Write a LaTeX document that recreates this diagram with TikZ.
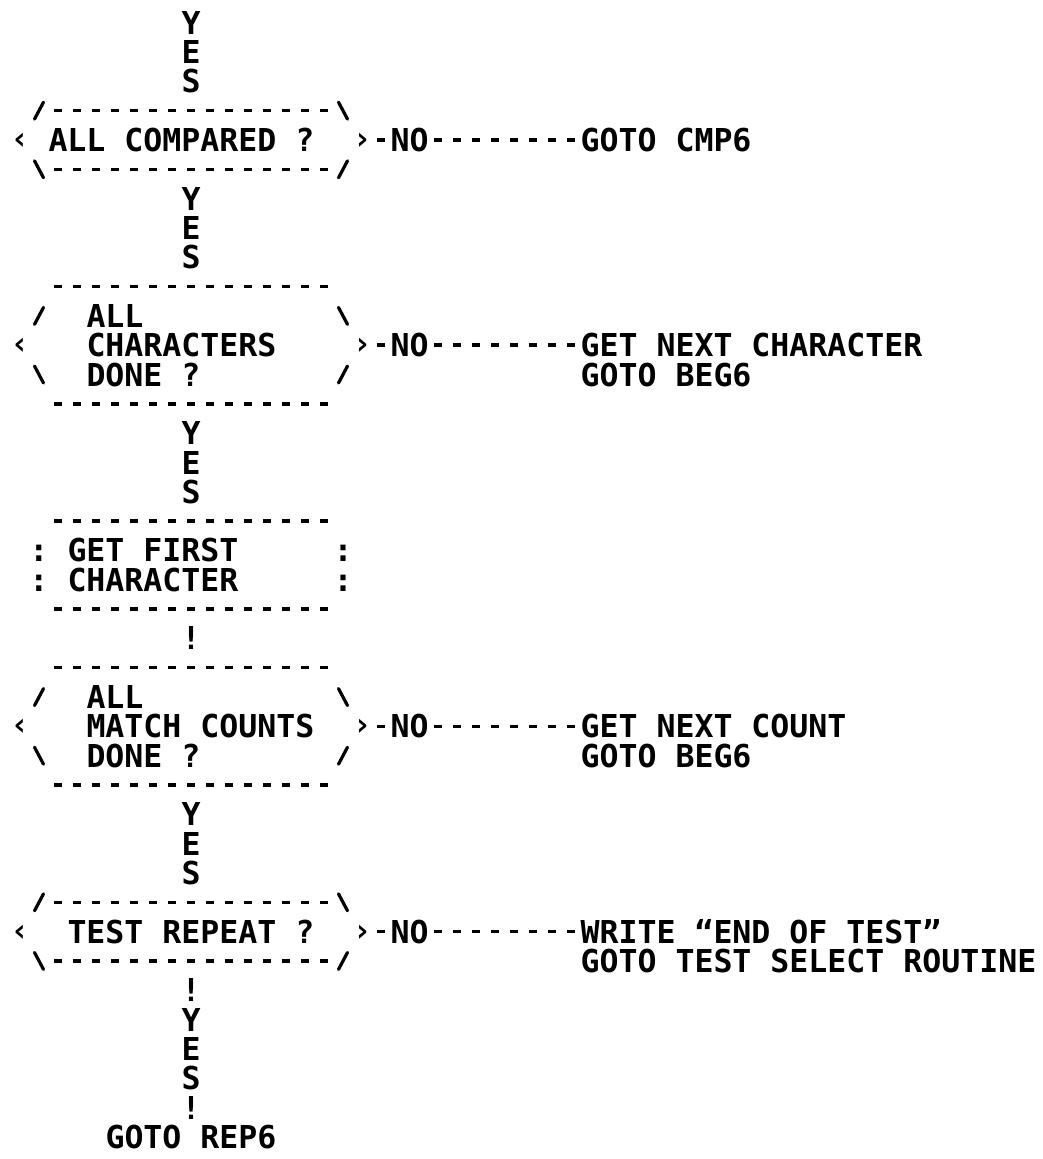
\documentclass[tikz,border=0pt]{standalone}
\usepackage{fontspec}
\newfontfamily\monofam{DejaVu Sans Mono}
\newcommand\ff{\monofam\bfseries\fontsize{31.56pt}{36pt}\selectfont}
\newcommand\slashF[1]{\draw[stroke] ([shift={(-4.5pt,-8.5pt)}]#1) -- ([shift={(4.5pt,8.5pt)}]#1);}
\newcommand\slashB[1]{\draw[stroke] ([shift={(-4.5pt,8.5pt)}]#1) -- ([shift={(4.5pt,-8.5pt)}]#1);}
\begin{document}
\begin{tikzpicture}[x=19pt,y=-29.32pt,
  lbl/.style={font=\ff,inner sep=0pt,outer sep=0pt,text height=23pt,text depth=0pt,anchor=west},
  glyph/.style={font=\ff,inner sep=0pt,outer sep=0pt,text height=23pt,text depth=0pt,anchor=center},
  angle/.style={glyph,yshift=2pt},
  dashrow/.style={line width=3.5pt,dash pattern=on 8pt off 11pt},
  stroke/.style={line width=3.2pt,line cap=round}]
\fill[white] (-20pt,22.7pt) rectangle ++(1043pt,-1159pt);
\useasboundingbox (-20pt,22.7pt) rectangle ++(1043pt,-1159pt);

% --- YES above first decision
\node[glyph] (y0) at (9,0) {Y};
\node[glyph] (e0) at (9,1) {E};
\node[glyph] (s0) at (9,2) {S};

% --- Decision 1: ALL COMPARED ?
\coordinate (d1tl) at (1,3); \coordinate (d1tr) at (17,3);
\coordinate (d1bl) at (1,5); \coordinate (d1br) at (17,5);
\slashF{d1tl} \slashB{d1tr} \slashB{d1bl} \slashF{d1br}
\draw[dashrow] ([xshift=15pt]d1tl) -- ([xshift=-15pt]d1tr);
\draw[dashrow] ([xshift=15pt]d1bl) -- ([xshift=-15pt]d1br);
\node[angle] (d1l) at (0,4) {‹};
\node[lbl] (d1) at (1.5,4) {ALL COMPARED ?};
\node[angle] (d1r) at (18,4) {›};
\node[lbl] (no1) at (19.5,4) {NO};
\node[lbl] (g1) at (29.5,4) {GOTO CMP6};
\draw[dashrow] ([xshift=5.5pt]d1r.east |- no1.west) -- ([xshift=-5.5pt]no1.west);
\draw[dashrow] ([xshift=5.5pt]no1.east) -- ([xshift=-5.5pt]g1.west);

\node[glyph] (y1) at (9,6) {Y};
\node[glyph] (e1) at (9,7) {E};
\node[glyph] (s1) at (9,8) {S};

% --- Decision 2: ALL CHARACTERS DONE ?
\coordinate (d2ta) at (2,9); \coordinate (d2tb) at (16,9);
\coordinate (d2ba) at (2,13); \coordinate (d2bb) at (16,13);
\draw[dashrow] ([xshift=-4pt]d2ta) -- ([xshift=4pt]d2tb);
\draw[dashrow] ([xshift=-4pt]d2ba) -- ([xshift=4pt]d2bb);
\coordinate (d2tl) at (1,10); \coordinate (d2tr) at (17,10);
\coordinate (d2bl) at (1,12); \coordinate (d2br) at (17,12);
\slashF{d2tl} \slashB{d2tr} \slashB{d2bl} \slashF{d2br}
\node[angle] (d2l) at (0,11) {‹};
\node[lbl] (d2a) at (3.5,10) {ALL};
\node[lbl] (d2) at (3.5,11) {CHARACTERS};
\node[lbl] (d2c) at (3.5,12) {DONE ?};
\node[angle] (d2r) at (18,11) {›};
\node[lbl] (no2) at (19.5,11) {NO};
\node[lbl] (g2) at (29.5,11) {GET NEXT CHARACTER};
\node[lbl] (g2b) at (29.5,12) {GOTO BEG6};
\draw[dashrow] ([xshift=5.5pt]d2r.east |- no2.west) -- ([xshift=-5.5pt]no2.west);
\draw[dashrow] ([xshift=5.5pt]no2.east) -- ([xshift=-5.5pt]g2.west);

\node[glyph] (y2) at (9,14) {Y};
\node[glyph] (e2) at (9,15) {E};
\node[glyph] (s2) at (9,16) {S};

% --- Process: GET FIRST CHARACTER
\coordinate (p1ta) at (2,17); \coordinate (p1tb) at (16,17);
\coordinate (p1ba) at (2,20); \coordinate (p1bb) at (16,20);
\draw[dashrow] ([xshift=-4pt]p1ta) -- ([xshift=4pt]p1tb);
\draw[dashrow] ([xshift=-4pt]p1ba) -- ([xshift=4pt]p1bb);
\node[glyph] (p1c1) at (1,18) {:};
\node[glyph] (p1c2) at (17,18) {:};
\node[glyph] (p1c3) at (1,19) {:};
\node[glyph] (p1c4) at (17,19) {:};
\node[lbl] (p1) at (2.5,18) {GET FIRST};
\node[lbl] (p1b) at (2.5,19) {CHARACTER};

\node[glyph] (x1) at (9,21) {!};

% --- Decision 3: ALL MATCH COUNTS DONE ?
\coordinate (d3ta) at (2,22); \coordinate (d3tb) at (16,22);
\coordinate (d3ba) at (2,26); \coordinate (d3bb) at (16,26);
\draw[dashrow] ([xshift=-4pt]d3ta) -- ([xshift=4pt]d3tb);
\draw[dashrow] ([xshift=-4pt]d3ba) -- ([xshift=4pt]d3bb);
\coordinate (d3tl) at (1,23); \coordinate (d3tr) at (17,23);
\coordinate (d3bl) at (1,25); \coordinate (d3br) at (17,25);
\slashF{d3tl} \slashB{d3tr} \slashB{d3bl} \slashF{d3br}
\node[angle] (d3l) at (0,24) {‹};
\node[lbl] (d3a) at (3.5,23) {ALL};
\node[lbl] (d3) at (3.5,24) {MATCH COUNTS};
\node[lbl] (d3c) at (3.5,25) {DONE ?};
\node[angle] (d3r) at (18,24) {›};
\node[lbl] (no3) at (19.5,24) {NO};
\node[lbl] (g3) at (29.5,24) {GET NEXT COUNT};
\node[lbl] (g3b) at (29.5,25) {GOTO BEG6};
\draw[dashrow] ([xshift=5.5pt]d3r.east |- no3.west) -- ([xshift=-5.5pt]no3.west);
\draw[dashrow] ([xshift=5.5pt]no3.east) -- ([xshift=-5.5pt]g3.west);

\node[glyph] (y3) at (9,27) {Y};
\node[glyph] (e3) at (9,28) {E};
\node[glyph] (s3) at (9,29) {S};

% --- Decision 4: TEST REPEAT ?
\coordinate (d4tl) at (1,30); \coordinate (d4tr) at (17,30);
\coordinate (d4bl) at (1,32); \coordinate (d4br) at (17,32);
\slashF{d4tl} \slashB{d4tr} \slashB{d4bl} \slashF{d4br}
\draw[dashrow] ([xshift=15pt]d4tl) -- ([xshift=-15pt]d4tr);
\draw[dashrow] ([xshift=15pt]d4bl) -- ([xshift=-15pt]d4br);
\node[angle] (d4l) at (0,31) {‹};
\node[lbl] (d4) at (2.5,31) {TEST REPEAT ?};
\node[angle] (d4r) at (18,31) {›};
\node[lbl] (no4) at (19.5,31) {NO};
\node[lbl] (g4) at (29.5,31) {WRITE “END OF TEST”};
\node[lbl] (g4b) at (29.5,32) {GOTO TEST SELECT ROUTINE};
\draw[dashrow] ([xshift=5.5pt]d4r.east |- no4.west) -- ([xshift=-5.5pt]no4.west);
\draw[dashrow] ([xshift=5.5pt]no4.east) -- ([xshift=-5.5pt]g4.west);

\node[glyph] (x2) at (9,33) {!};
\node[glyph] (y4) at (9,34) {Y};
\node[glyph] (e4) at (9,35) {E};
\node[glyph] (s4) at (9,36) {S};
\node[glyph] (x3) at (9,37) {!};
\node[lbl] (end) at (4.5,38) {GOTO REP6};
\end{tikzpicture}
\end{document}
